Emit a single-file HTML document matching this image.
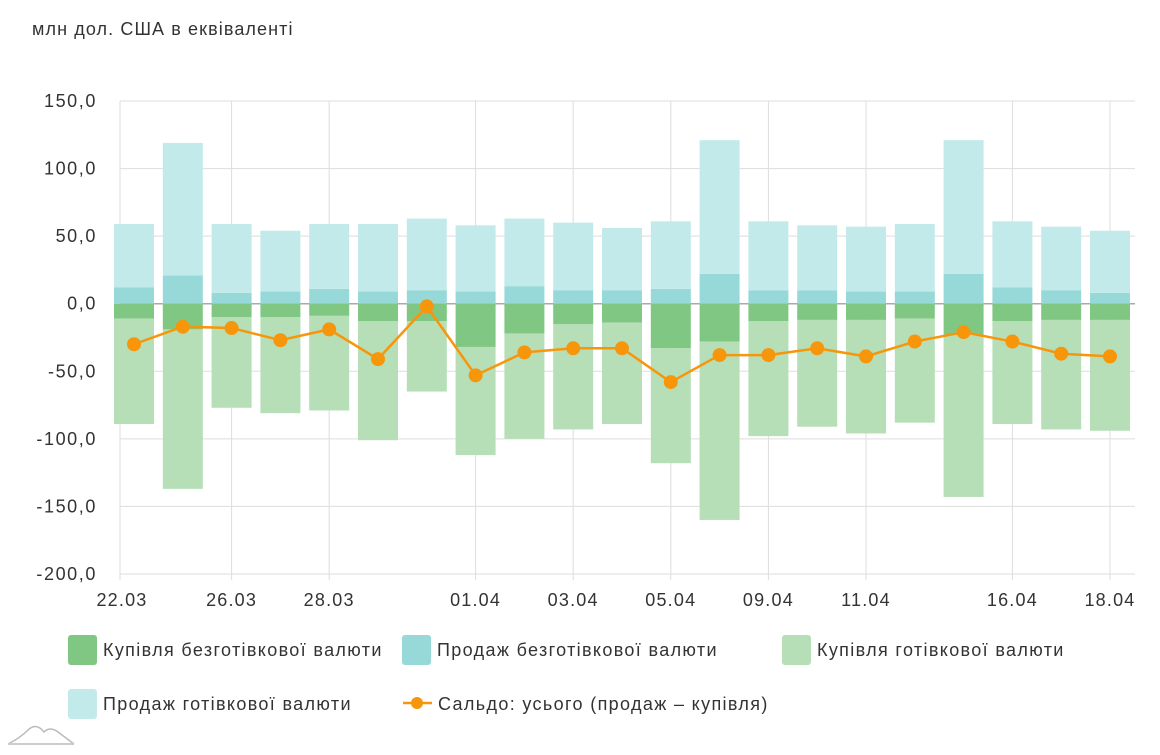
<!DOCTYPE html>
<html><head><meta charset="utf-8">
<style>
body{margin:0;background:#fff;width:1160px;height:750px;overflow:hidden;font-family:"Liberation Sans",sans-serif;}
svg text{font-family:"Liberation Sans",sans-serif;fill:#333;}
</style></head>
<body>
<svg id="chart" width="1160" height="750" xmlns="http://www.w3.org/2000/svg">
<text x="32" y="35" font-size="18" letter-spacing="1.1">млн дол. США в еквіваленті</text>
<g id="grid"></g>
<g id="bars"></g>
<g id="line"></g>
<g id="axes"></g>
<g font-size="18" letter-spacing="1.35">
 <g><rect x="68" y="635" width="29" height="30" rx="3" fill="#81c784"/><text x="103" y="656">Купівля безготівкової валюти</text></g>
 <g><rect x="402" y="635" width="29" height="30" rx="3" fill="#96d9d8"/><text x="437" y="656">Продаж безготівкової валюти</text></g>
 <g><rect x="782" y="635" width="29" height="30" rx="3" fill="#b6dfb8"/><text x="817" y="656">Купівля готівкової валюти</text></g>
 <g><rect x="68" y="689" width="29" height="30" rx="3" fill="#c3eaea"/><text x="103" y="710">Продаж готівкової валюти</text></g>
 <g><line x1="403" y1="703" x2="432" y2="703" stroke="#f7960b" stroke-width="2.5"/><circle cx="417" cy="703" r="6" fill="#f7960b"/><text x="438" y="710">Сальдо: усього (продаж – купівля)</text></g>
</g>
<path d="M8 744 Q20 738 28 730 Q36 722 44 732 Q50 726 58 732 Q66 738 74 744" fill="none" stroke="#bbb" stroke-width="1.5"/>
<line x1="8" y1="744" x2="74" y2="744" stroke="#ccc" stroke-width="2"/>
</svg>
<script>
const categories=["22.03","23.03","26.03","27.03","28.03","29.03","30.03","01.04","02.04","03.04","04.04","05.04","08.04","09.04","10.04","11.04","12.04","15.04","16.04","17.04","18.04"];
const xLabels=["22.03","","26.03","","28.03","","","01.04","","03.04","","05.04","","09.04","","11.04","","","16.04","","18.04"];
const cashlessSell=[12,21,8,9,11,9,10,9,13,10,10,11,22,10,10,9,9,22,12,10,8];
const cashSell=[47,98,51,45,48,50,53,49,50,50,46,50,99,51,48,48,50,99,49,47,46];
const cashlessBuy=[-11,-19,-10,-10,-9,-13,-13,-32,-22,-15,-14,-33,-28,-13,-12,-12,-11,-23,-13,-12,-12];
const cashBuy=[-78,-118,-67,-71,-70,-88,-52,-80,-78,-78,-75,-85,-132,-85,-79,-84,-77,-120,-76,-81,-82];
const balance=[-30,-17,-18,-27,-19,-41,-2,-53,-36,-33,-33,-58,-38,-38,-33,-39,-28,-21,-28,-37,-39];
const yTicks=[150,100,50,0,-50,-100,-150,-200];
const NS="http://www.w3.org/2000/svg";
const L=120,R=1135,T=101,B=574,yMin=-200,yMax=150;
const y=v=>T+(yMax-v)/(yMax-yMin)*(B-T);
const step=(1110-134)/(categories.length-1);
const x=i=>134+i*step;
const bw=40;
function mk(p,tag,a){const e=document.createElementNS(NS,tag);for(const k in a)e.setAttribute(k,a[k]);p.appendChild(e);return e;}
const grid=document.getElementById('grid'),bars=document.getElementById('bars'),line=document.getElementById('line'),axes=document.getElementById('axes');
yTicks.forEach(t=>{
 const l=mk(grid,'line',{x1:L,x2:R,y1:y(t),y2:y(t),stroke:t===0?'#aaa':'#ddd','stroke-width':t===0?1.5:1});
 
 
 const tx=mk(axes,'text',{x:97,y:y(t)+6,'text-anchor':'end','font-size':18,'letter-spacing':1.6});
 tx.textContent=t.toFixed(1).replace('.',',');
 
 
});
const ax=mk(grid,'line',{x1:L,x2:L,y1:T,y2:B,stroke:'#ccc'});


xLabels.forEach((lab,i)=>{
 if(!lab)return;
 const gx=i===0?L:x(i);
 const g=mk(grid,'line',{x1:gx,x2:gx,y1:T,y2:B+6,stroke:'#ddd'});
 
 
 const tx=mk(axes,'text',{x:x(i)-12*(i===0?1:0),y:606,'text-anchor':'middle','font-size':18,'letter-spacing':1.2});
 tx.textContent=lab;
 
 
});
categories.forEach((c,i)=>{
 const bx=x(i)-bw/2;
 const segs=[[0,cashlessSell[i],'#96d9d8','bar-cashless-sell'],[cashlessSell[i],cashlessSell[i]+cashSell[i],'#c3eaea','bar-cash-sell'],[0,cashlessBuy[i],'#81c784','bar-cashless-buy'],[cashlessBuy[i],cashlessBuy[i]+cashBuy[i],'#b6dfb8','bar-cash-buy']];
 segs.forEach(s=>{
  const y1=Math.min(y(s[0]),y(s[1])),y2=Math.max(y(s[0]),y(s[1]));
  const r=mk(bars,'rect',{x:bx,y:y1,width:bw,height:y2-y1,fill:s[2]});
  
  
 });
});
const pl=mk(line,'polyline',{points:balance.map((v,i)=>x(i)+','+y(v)).join(' '),fill:'none',stroke:'#f7960b','stroke-width':2.5});


balance.forEach((v,i)=>{
 const c=mk(line,'circle',{cx:x(i),cy:y(v),r:7,fill:'#f7960b'});
 
 
});
</script>
</body></html>
